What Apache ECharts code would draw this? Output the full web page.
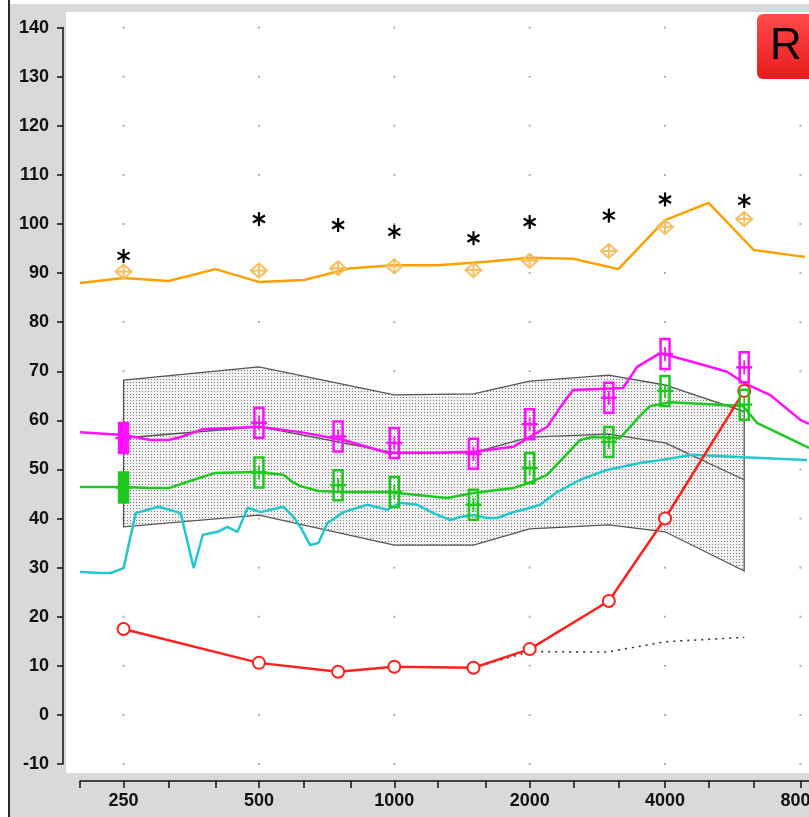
<!DOCTYPE html>
<html>
<head>
<meta charset="utf-8">
<script src="https://cdn.jsdelivr.net/npm/echarts@6/dist/echarts.min.js"></script>
<style>
  html, body { margin: 0; padding: 0; background: #fff; }
  #chart { width: 809px; height: 817px; }
</style>
</head>
<body>
<div id="chart"></div>
<script>
// ---- Audiogram data (frequency in Hz, level in dB) ----
const audFreq    = [250, 500, 750, 1000, 1500, 2000, 3000, 4000, 6000];
const uclStars   = [93.5, 101, 99.8, 98.4, 97.1, 100.4, 101.7, 105, 104.7];
const mpoMarks   = [90.3, 90.5, 91.0, 91.4, 90.6, 92.5, 94.5, 99.4, 101];
const thresholds = [17.5, 10.6, 8.8, 9.8, 9.6, 13.4, 23.2, 40.0, 66.0];
const loudMarks  = [56.4, 59.5, 56.7, 55.4, 53.2, 59.2, 64.6, 73.5, 70.8];
const softMarks  = [46.3, 49.4, 46.8, 45.4, 42.8, 50.3, 55.6, 66.0, 63.2];

// Speech region (upper / middle / lower edges)
const bandFreq   = [250, 500, 1000, 1500, 2000, 3000, 4000, 6000];
const bandUpper  = [68.2, 70.9, 65.2, 65.4, 68.0, 69.2, 67.2, 61.8];
const bandMiddle = [56.4, 58.7, 53.4, 53.4, 56.6, 57.2, 55.4, 47.9];
const bandLower  = [38.3, 40.7, 34.6, 34.6, 37.9, 38.7, 37.3, 29.3];

// Measured output curves
const mpoFreq = [200, 250, 315, 400, 500, 630, 800, 1000, 1250, 1600, 2000, 2500, 3150, 4000, 5000, 6300, 8190];
const mpoDb   = [88.0, 89.0, 88.4, 90.8, 88.2, 88.6, 91.0, 91.6, 91.6, 92.3, 93.1, 92.9, 90.8, 100.8, 104.3, 94.7, 93.3];

const loudFreq = [200, 250, 287, 315, 335, 375, 500, 618, 771, 965, 1221, 1498, 1838, 2000, 2187, 2337, 2498, 3226, 3466, 3899, 4618, 5496, 6000, 6843, 8000, 8360];
const loudDb   = [57.6, 57.0, 56.0, 56.0, 56.6, 58.2, 58.7, 57.6, 56.0, 53.4, 53.4, 53.6, 54.6, 56.6, 58.7, 62.6, 66.2, 66.6, 70.9, 73.7, 71.9, 69.9, 67.6, 65.2, 60.1, 59.3];

const softFreq = [200, 250, 287, 315, 358, 400, 491, 567, 597, 618, 678, 771, 965, 1312, 1498, 1838, 2000, 2187, 2590, 2768, 3177, 3519, 3704, 4104, 5964, 6403, 8100, 8360];
const softDb   = [46.4, 46.4, 46.2, 46.2, 47.9, 49.3, 49.5, 48.9, 47.3, 46.6, 45.6, 45.4, 45.4, 44.2, 45.2, 46.2, 47.3, 48.9, 56.0, 56.6, 56.4, 60.9, 62.9, 63.7, 62.9, 59.5, 55.0, 54.4];

const speechFreq = [200, 222, 234, 250, 266, 299, 335, 358, 375, 405, 425, 448, 472, 504, 567, 597, 618, 650, 678, 710, 771, 871, 965, 1031, 1125, 1221, 1332, 1401, 1498, 1609, 1693, 1838, 1935, 2110, 2302, 2590, 2973, 3519, 3899, 4618, 5964, 8275];
const speechDb   = [29.1, 28.9, 28.9, 29.9, 41.1, 42.4, 41.1, 29.9, 36.7, 37.3, 38.3, 37.3, 42.2, 41.3, 42.4, 40.3, 38.3, 34.6, 35.0, 39.1, 41.3, 42.8, 41.8, 43.2, 42.8, 41.1, 39.7, 40.3, 40.7, 40.1, 40.1, 41.3, 41.8, 42.8, 45.4, 47.9, 49.9, 51.3, 51.9, 53.0, 52.5, 51.9];

const noiseFreq = [1500, 2000, 2973, 4000, 6000];
const noiseDb   = [9.6, 12.9, 12.8, 14.9, 15.8];

// Axis ticks
const tickFreqs  = [200, 250, 315, 400, 500, 630, 800, 1000, 1250, 1600, 2000, 2500, 3150, 4000, 5000, 6300, 8000];
const labelFreqs = [250, 500, 1000, 2000, 4000, 8000];
const dbTicks    = [-10, 0, 10, 20, 30, 40, 50, 60, 70, 80, 90, 100, 110, 120, 130, 140];

// Frequency -> octaves above 250 Hz (log scale position)
const oct = f => Math.log2(f / 250);
const pairs = (fs, ds) => fs.map((f, i) => [oct(f), ds[i]]);

// Stipple fill for the speech region
const pat = document.createElement('canvas');
pat.width = 3; pat.height = 3;
const pc = pat.getContext('2d');
pc.fillStyle = '#f1f1f1'; pc.fillRect(0, 0, 3, 3);
pc.fillStyle = '#7a7a7a'; pc.fillRect(1, 1, 1, 1);

const LOUD = '#ff10ff', SOFT = '#1ec81e', SPEECH = '#22c8cc', MPO = '#ffa000', RED = '#ff2020';

// Marker shapes drawn around a point
function star() {
  const s = { stroke: '#000', lineWidth: 2.2 };
  return [
    { type: 'line', shape: { x1: 0, y1: -7, x2: 0, y2: 7 }, style: s },
    { type: 'line', shape: { x1: -6, y1: -3.5, x2: 6, y2: 3.5 }, style: s },
    { type: 'line', shape: { x1: -6, y1: 3.5, x2: 6, y2: -3.5 }, style: s }
  ];
}
function diamondCross() {
  const s = { stroke: '#f4c060', lineWidth: 2, fill: 'transparent' };
  return [
    { type: 'polygon', shape: { points: [[0, -7], [8, 0], [0, 7], [-8, 0]] }, style: s },
    { type: 'line', shape: { x1: -8, y1: 0, x2: 8, y2: 0 }, style: s },
    { type: 'line', shape: { x1: 0, y1: -7, x2: 0, y2: 7 }, style: s }
  ];
}
function barMark(color, filled) {
  const s = { stroke: color, lineWidth: 2.5, fill: filled ? color : 'transparent' };
  const l = { stroke: color, lineWidth: 2.5 };
  return [
    { type: 'rect', shape: { x: -4.5, y: -15, width: 9, height: 30 }, style: s },
    { type: 'line', shape: { x1: -8, y1: 0, x2: 8, y2: 0 }, style: l },
    { type: 'line', shape: { x1: 0, y1: -7, x2: 0, y2: 7 }, style: filled ? l : { stroke: color, lineWidth: 1.8 } }
  ];
}
function markerSeries(name, values, build, z) {
  return {
    name, type: 'custom', z, silent: true,
    data: pairs(audFreq, values),
    renderItem: (params, api) => {
      const p = api.coord([api.value(0), api.value(1)]);
      return { type: 'group', x: p[0], y: p[1], children: build(params.dataIndex) };
    }
  };
}
function curve(name, fs, ds, color, z) {
  return {
    name, type: 'line', z, silent: true, symbol: 'none',
    data: pairs(fs, ds),
    lineStyle: { color, width: 2.5 }
  };
}

// Faint grid points at octave / 10 dB intersections
const gridDots = [];
labelFreqs.forEach(f => dbTicks.forEach(d => gridDots.push([oct(f), d])));

const chart = echarts.init(document.getElementById('chart'), null, { renderer: 'canvas' });
chart.setOption({
  animation: false,
  backgroundColor: '#ffffff',
  grid: { left: 80, right: 0, top: 27.6, bottom: 53, containLabel: false, outerBoundsMode: 'none' },
  xAxis: {
    type: 'value',
    min: oct(200), max: oct(8360),
    offset: 17,
    axisLine: { show: true, onZero: false, lineStyle: { color: '#111', width: 1.5 } },
    axisTick: { show: true, customValues: tickFreqs.map(oct), length: 7, lineStyle: { color: '#111', width: 1.5 } },
    axisLabel: {
      customValues: labelFreqs.map(oct),
      formatter: v => String(Math.round(250 * Math.pow(2, v))),
      margin: 11, color: '#111', fontSize: 18, fontWeight: 'bold',
      fontFamily: '"Liberation Sans Narrow", "Liberation Sans", Arial, sans-serif'
    },
    splitLine: { show: false }
  },
  yAxis: {
    type: 'value', min: -10, max: 140, interval: 10,
    offset: 17,
    axisLine: { show: true, onZero: false, lineStyle: { color: '#111', width: 1.5 } },
    axisTick: { show: true, length: 6, lineStyle: { color: '#111', width: 1.5 } },
    axisLabel: {
      margin: 14, color: '#111', fontSize: 18, fontWeight: 'bold',
      fontFamily: '"Liberation Sans", Arial, sans-serif'
    },
    splitLine: { show: false }
  },
  graphic: [
    { type: 'rect', z: -20, silent: true, shape: { x: 0, y: 0, width: 809, height: 817 }, style: { fill: '#d9d9d9' } },
    { type: 'rect', z: -19, silent: true, shape: { x: 0, y: 0, width: 809, height: 4 }, style: { fill: '#ffffff' } },
    { type: 'rect', z: -19, silent: true, shape: { x: 0, y: 0, width: 8, height: 817 }, style: { fill: '#ffffff' } },
    { type: 'rect', z: -19, silent: true, shape: { x: 8, y: 0, width: 2, height: 817 }, style: { fill: '#2a2a2a' } },
    { type: 'rect', z: -18, silent: true, shape: { x: 66, y: 12, width: 743, height: 761 }, style: { fill: '#ffffff' } },
    {
      type: 'rect', z: 100, silent: true,
      shape: { x: 757, y: 14, width: 62, height: 65, r: 6 },
      style: {
        fill: new echarts.graphic.LinearGradient(0, 0, 0, 1, [
          { offset: 0, color: '#ff4a4a' }, { offset: 1, color: '#e81c1c' }
        ])
      }
    },
    {
      type: 'text', z: 101, silent: true, x: 786, y: 47,
      style: { text: 'R', font: '44px "Liberation Sans", Arial, sans-serif', fill: '#000', align: 'center', verticalAlign: 'middle' }
    }
  ],
  series: [
    {
      name: 'grid', type: 'scatter', z: 1, silent: true,
      data: gridDots, symbol: 'rect', symbolSize: 2,
      itemStyle: { color: '#9a9a9a' }
    },
    {
      name: 'Speech region', type: 'custom', z: 2, silent: true,
      data: [[0, 0]],
      renderItem: (params, api) => {
        const pts = [];
        bandFreq.forEach((f, i) => pts.push(api.coord([oct(f), bandUpper[i]])));
        for (let i = bandFreq.length - 1; i >= 0; i--) pts.push(api.coord([oct(bandFreq[i]), bandLower[i]]));
        return {
          type: 'polygon', shape: { points: pts },
          style: { fill: { image: pat, repeat: 'repeat' }, stroke: '#555', lineWidth: 1.3 }
        };
      }
    },
    {
      name: 'Speech median', type: 'line', z: 3, silent: true, symbol: 'none',
      data: pairs(bandFreq, bandMiddle),
      lineStyle: { color: '#555', width: 1.3 }
    },
    curve('Speech', speechFreq, speechDb, SPEECH, 4),
    curve('Soft', softFreq, softDb, SOFT, 5),
    curve('Loud', loudFreq, loudDb, LOUD, 6),
    curve('MPO', mpoFreq, mpoDb, MPO, 6),
    {
      name: 'Noise', type: 'line', z: 7, silent: true, symbol: 'none',
      data: pairs(noiseFreq, noiseDb),
      lineStyle: { color: '#333', width: 1.6, type: [2, 5] }
    },
    {
      name: 'Threshold', type: 'line', z: 8, silent: true,
      data: pairs(audFreq, thresholds),
      symbol: 'emptyCircle', symbolSize: 12,
      lineStyle: { color: RED, width: 2.5 },
      itemStyle: { color: RED, borderColor: RED, borderWidth: 2.2 }
    },
    markerSeries('Soft target', softMarks, i => barMark(SOFT, i === 0), 9),
    markerSeries('Loud target', loudMarks, i => barMark(LOUD, i === 0), 9),
    markerSeries('MPO target', mpoMarks, () => diamondCross(), 9),
    markerSeries('UCL', uclStars, () => star(), 9)
  ]
});
</script>
</body>
</html>
